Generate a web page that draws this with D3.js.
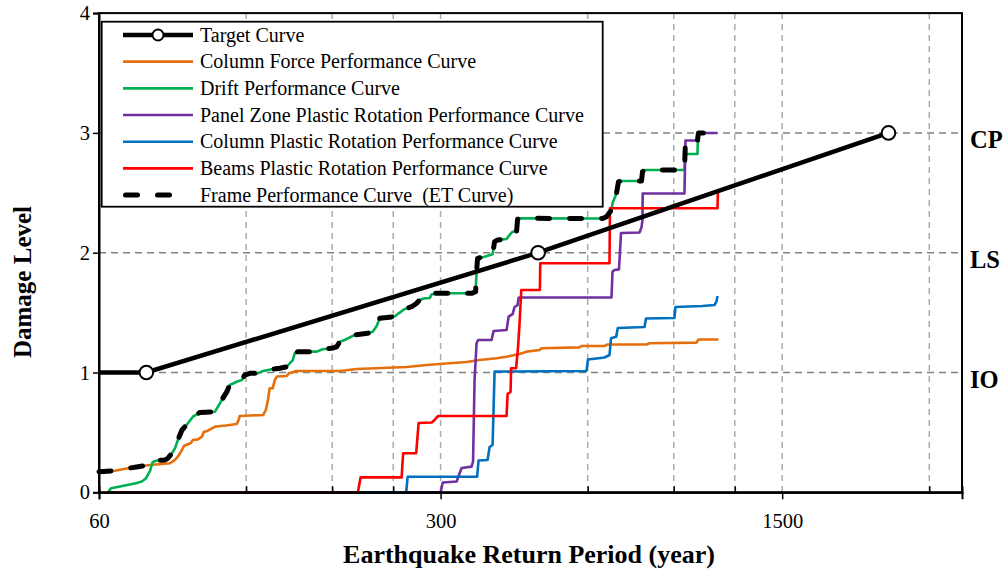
<!DOCTYPE html>
<html>
<head>
<meta charset="utf-8">
<script src="https://cdn.jsdelivr.net/npm/d3@7"></script>
<style>
  body { margin: 0; background: #fff; }
  svg { display: block; }
  text { font-family: "Liberation Serif", "Times New Roman", serif; fill: #000; }
</style>
</head>
<body>
<svg id="chart" width="1007" height="571"></svg>
<script>
// ---- Data: return period (years) vs. damage level ----
const targetPeriods = [60, 75, 475, 2475];
const targetLevels  = [1, 1, 2, 3];
const targetMarkers = [75, 475, 2475];

const columnForceCurve = [
  [60,0.172],[64.6,0.180],[68.8,0.200],[72.1,0.214],[76.3,0.228],[80.7,0.236],[83.8,0.242],[85.8,0.270],
  [87.0,0.297],[88.7,0.353],[89.5,0.386],[92.5,0.412],[93.4,0.437],[95.6,0.442],[97.4,0.462],[98.3,0.503],
  [100.2,0.514],[102.1,0.534],[104.0,0.549],[109.1,0.558],[114.8,0.570],[115.9,0.604],[116.4,0.637],
  [130.0,0.645],[131.7,0.687],[133.0,0.770],[134.1,0.868],[136.0,0.868],[137.4,0.937],[138.7,0.967],
  [145.3,0.971],[146.7,0.993],[150.2,1.004],[151.6,1.013],[186.5,1.013],[202.0,1.029],[255.7,1.046],
  [281.0,1.063],[298.7,1.071],[339.1,1.088],[360.5,1.104],[390.5,1.119],[409.4,1.132],[435.2,1.154],
  [449.8,1.174],[478.2,1.188],[482.8,1.202],[577.3,1.210],[582.8,1.221],[649.5,1.221],[658.7,1.234],
  [791.6,1.234],[802.8,1.244],[1001.5,1.249],[1011,1.275],[1111,1.275]
];

const driftCurve = [
  [62.6,0],[63.5,0.033],[67.8,0.057],[71.4,0.075],[73.4,0.090],[74.8,0.115],[76.3,0.178],[77.3,0.253],
  [78.8,0.265],[81.9,0.270],[83.0,0.284],[84.6,0.326],[85.8,0.367],[87.0,0.437],[88.7,0.520],[91.2,0.576],
  [93.4,0.631],[96.5,0.666],[103.6,0.673],[105.1,0.715],[107.0,0.770],[109.6,0.840],[111.1,0.896],
  [114.8,0.923],[117.6,0.937],[119.2,0.979],[122.1,0.993],[126.8,0.993],[130.0,1.013],[135.4,1.027],
  [140.7,1.035],[145.4,1.048],[147.4,1.077],[149.5,1.104],[150.9,1.160],[153.1,1.174],[167.4,1.174],
  [172.1,1.194],[179.6,1.202],[183.9,1.215],[186.5,1.257],[190.9,1.271],[200.1,1.313],[212.7,1.327],
  [217.9,1.341],[222.0,1.388],[225.2,1.452],[241.6,1.467],[246.2,1.494],[253.3,1.530],[261.8,1.549],
  [268.0,1.578],[271.8,1.605],[278.3,1.619],[284.9,1.622],[287.6,1.651],[293.1,1.661],[347.2,1.661],
  [353.8,1.674],[355.4,1.839],[357.1,1.953],[369.1,1.967],[383.3,1.987],[386.9,2.092],[392.4,2.106],
  [409.4,2.114],[415.3,2.148],[421.2,2.175],[429.2,2.181],[431.2,2.279],[435.2,2.287],[643.4,2.285],
  [655.6,2.301],[671.2,2.356],[674.4,2.412],[687.2,2.496],[693.7,2.593],[706.9,2.598],[773.1,2.598],
  [776.7,2.676],[784.1,2.690],[946.6,2.690],[951.1,2.824],[1006.4,2.824],[1008,2.928],[1015.8,2.941]
];

const panelZoneCurve = [
  [62.6,0],[300.1,0],[303.0,0.082],[323.6,0.090],[326.6,0.136],[331.3,0.203],[347.2,0.214],[349.6,0.257],
  [352.1,0.937],[355.4,1.244],[358.0,1.271],[381.5,1.271],[385.1,1.346],[409.4,1.355],[413.3,1.466],
  [421.2,1.488],[425.2,1.547],[431.2,1.563],[433.2,1.622],[435.2,1.626],[671.2,1.626],[674.4,1.841],
  [680.8,1.856],[695.3,1.861],[702.0,2.164],[765.8,2.169],[773.1,2.212],[776.7,2.273],[777.5,2.494],
  [946.6,2.494],[951.1,2.937],[1006.4,2.937],[1011,2.999],[1105.9,2.999]
];

const columnRotationCurve = [
  [62.6,0],[255.1,0],[256.9,0.130],[356.3,0.130],[358.8,0.265],[374.3,0.270],[377.9,0.378],[383.3,0.395],
  [386.9,1.007],[596.7,1.013],[600.9,1.109],[649.5,1.125],[664.9,1.146],[669.7,1.285],[686.2,1.299],
  [691.4,1.371],[784.1,1.380],[789.7,1.451],[903.1,1.455],[907.4,1.547],[1030.3,1.555],[1090.4,1.563],
  [1100.7,1.593],[1105.9,1.639]
];

const beamRotationCurve = [
  [62.6,0],[203.2,0],[205.8,0.125],[249.7,0.125],[251.5,0.326],[267.4,0.326],[270.5,0.578],[287.6,0.583],
  [291.7,0.604],[296.6,0.637],[409.4,0.637],[411.4,0.821],[417.2,0.837],[418.2,1.035],[428.2,1.035],
  [432.2,1.215],[435.2,1.411],[438.8,1.689],[479.0,1.689],[479.8,1.912],[664.9,1.912],[666.5,2.371],
  [1105.9,2.371],[1108.5,2.523]
];

const frameCurve = [
  [60,0.172],[64.6,0.180],[68.8,0.200],[72.1,0.214],[76.3,0.228],[77.0,0.232],[77.3,0.253],
  [78.8,0.265],[81.9,0.270],[83.0,0.284],[84.6,0.326],[85.8,0.367],[87.0,0.437],[88.7,0.520],[91.2,0.576],
  [93.4,0.631],[96.5,0.666],[103.6,0.673],[105.1,0.715],[107.0,0.770],[109.6,0.840],[111.1,0.896],
  [114.8,0.923],[117.6,0.937],[119.2,0.979],[122.1,0.993],[126.8,0.993],[130.0,1.013],[135.4,1.027],
  [140.7,1.035],[145.4,1.048],[147.4,1.077],[149.5,1.104],[150.9,1.160],[153.1,1.174],[167.4,1.174],
  [172.1,1.194],[179.6,1.202],[183.9,1.215],[186.5,1.257],[190.9,1.271],[200.1,1.313],[212.7,1.327],
  [217.9,1.341],[222.0,1.388],[225.2,1.452],[241.6,1.467],[246.2,1.494],[253.3,1.530],[261.8,1.549],
  [268.0,1.578],[271.8,1.605],[278.3,1.619],[284.9,1.622],[287.6,1.651],[293.1,1.661],[347.2,1.661],
  [353.8,1.674],[355.4,1.839],[357.1,1.953],[369.1,1.967],[383.3,1.987],[386.9,2.092],[392.4,2.106],
  [409.4,2.114],[415.3,2.148],[421.2,2.175],[429.2,2.181],[431.2,2.279],[435.2,2.287],[643.4,2.285],
  [655.6,2.301],[671.2,2.356],[674.4,2.412],[687.2,2.496],[693.7,2.593],[706.9,2.598],[773.1,2.598],
  [776.7,2.676],[784.1,2.690],[946.6,2.690],[951.1,2.937],[1006.4,2.937],[1011,2.999],[1105.9,2.999]
];

// ---- Axis ticks and labels ----
const xMajorTicks = [60, 300, 1500];
const xMinorTicks = [120, 180, 240, 600, 900, 1200, 3000];
const xDomain = [60, 3500];
const yTicks = [0, 1, 2, 3, 4];
const yDomain = [0, 4];
const limitStateLevels = [1, 2, 3];
const limitStateNames  = ["IO", "LS", "CP"];
const xTitle = "Earthquake Return Period (year)";
const yTitle = "Damage Level";

// ---- Chart setup ----
const svg = d3.select("#chart");
const plot = { left: 99, right: 962, top: 13.1, bottom: 492.3 };

const x = d3.scaleLog().domain(xDomain).range([plot.left, plot.right]);
const y = d3.scaleLinear().domain(yDomain).range([plot.bottom, plot.top]);

// Gridlines
const vGrid = xMajorTicks.concat(xMinorTicks).filter(v => v !== xDomain[0]);
svg.append("g").selectAll("line").data(vGrid).join("line")
  .attr("x1", d => x(d)).attr("x2", d => x(d))
  .attr("y1", plot.top).attr("y2", plot.bottom)
  .attr("stroke", "#ababab").attr("stroke-width", 1.5).attr("stroke-dasharray", "6,5");
svg.append("g").selectAll("line").data(limitStateLevels).join("line")
  .attr("x1", plot.left).attr("x2", plot.right)
  .attr("y1", d => y(d)).attr("y2", d => y(d))
  .attr("stroke", "#808080").attr("stroke-width", 1.5).attr("stroke-dasharray", "7,5");

// Performance curves
const line = d3.line().x(d => x(d[0])).y(d => y(d[1]));
const series = [
  { label: "Column Force Performance Curve", data: columnForceCurve, color: "#E56F0C" },
  { label: "Drift Performance Curve", data: driftCurve, color: "#00B050" },
  { label: "Panel Zone Plastic Rotation Performance Curve", data: panelZoneCurve, color: "#7030A0" },
  { label: "Column Plastic Rotation Performance Curve", data: columnRotationCurve, color: "#0070C0" },
  { label: "Beams Plastic Rotation Performance Curve", data: beamRotationCurve, color: "#FF0000" }
];
const curves = svg.append("g").attr("fill", "none").attr("stroke-linejoin", "round");
series.forEach(s => {
  curves.append("path").datum(s.data).attr("d", line)
    .attr("stroke", s.color).attr("stroke-width", 2.6);
});

// Target curve
const targetData = targetPeriods.map((p, i) => [p, targetLevels[i]]);
svg.append("path").datum(targetData).attr("d", line)
  .attr("fill", "none").attr("stroke", "#000").attr("stroke-width", 4.5);

// Frame performance (ET) curve
svg.append("path").datum(frameCurve).attr("d", line)
  .attr("fill", "none").attr("stroke", "#000").attr("stroke-width", 5)
  .attr("stroke-dasharray", "12,20").attr("stroke-linecap", "round").attr("stroke-linejoin", "round");

// Target markers
svg.append("g").selectAll("circle").data(targetMarkers).join("circle")
  .attr("cx", d => x(d)).attr("cy", d => y(targetLevels[targetPeriods.indexOf(d)]))
  .attr("r", 6.8).attr("fill", "#fff").attr("stroke", "#000").attr("stroke-width", 2);

// Plot frame
svg.append("rect").attr("x", plot.left).attr("y", plot.top)
  .attr("width", plot.right - plot.left).attr("height", plot.bottom - plot.top)
  .attr("fill", "none").attr("stroke", "#000").attr("stroke-width", 2);

// Axes
const xAxis = svg.append("g").attr("transform", `translate(0,${plot.bottom})`)
  .call(d3.axisBottom(x).tickValues(xMajorTicks).tickFormat(d3.format("d")).tickSize(7).tickPadding(14));
const xMinor = svg.append("g").attr("transform", `translate(0,${plot.bottom})`)
  .call(d3.axisBottom(x).tickValues(xMinorTicks).tickFormat("").tickSize(-6));
const yAxis = svg.append("g").attr("transform", `translate(${plot.left},0)`)
  .call(d3.axisLeft(y).tickValues(yTicks).tickFormat(d3.format("d")).tickSize(6).tickPadding(3));
[xAxis, xMinor, yAxis].forEach(g => {
  g.select(".domain").attr("stroke", "#000").attr("stroke-width", 2);
  g.selectAll(".tick line").attr("stroke", "#000").attr("stroke-width", 1.5);
  g.selectAll(".tick text").attr("font-family", "Liberation Serif, Times New Roman, serif")
    .attr("font-size", 20.5).attr("fill", "#000");
});

// Limit state labels
svg.append("g").selectAll("text").data(limitStateLevels).join("text")
  .attr("x", 970).attr("y", d => y(d) + 15)
  .attr("font-size", 24.5).attr("font-weight", "bold")
  .text((d, i) => limitStateNames[i]);

// Axis titles
svg.append("text").attr("x", 529).attr("y", 563).attr("text-anchor", "middle")
  .attr("font-size", 26).attr("font-weight", "bold").text(xTitle);
svg.append("text").attr("transform", "translate(31,282) rotate(-90)").attr("text-anchor", "middle")
  .attr("font-size", 25).attr("font-weight", "bold").text(yTitle);

// Legend
const legend = svg.append("g");
legend.append("rect").attr("x", 101.7).attr("y", 21.7).attr("width", 501).attr("height", 185)
  .attr("fill", "#fff").attr("stroke", "#000").attr("stroke-width", 1.8);
const legendItems = [{ label: "Target Curve", kind: "target" }]
  .concat(series.map(s => ({ label: s.label, kind: "series", color: s.color })))
  .concat([{ label: "Frame Performance Curve  (ET Curve)", kind: "frame" }]);
const rowY = i => 35 + i * 26.67;
legendItems.forEach((item, i) => {
  const yy = rowY(i);
  if (item.kind === "target") {
    legend.append("line").attr("x1", 123).attr("x2", 193).attr("y1", yy).attr("y2", yy)
      .attr("stroke", "#000").attr("stroke-width", 4.5);
    legend.append("circle").attr("cx", 158).attr("cy", yy).attr("r", 5.5)
      .attr("fill", "#fff").attr("stroke", "#000").attr("stroke-width", 2);
  } else if (item.kind === "series") {
    legend.append("line").attr("x1", 123).attr("x2", 193).attr("y1", yy).attr("y2", yy)
      .attr("stroke", item.color).attr("stroke-width", 2.6);
  } else {
    legend.append("line").attr("x1", 125.5).attr("x2", 172).attr("y1", yy).attr("y2", yy)
      .attr("stroke", "#000").attr("stroke-width", 5).attr("stroke-dasharray", "12,20")
      .attr("stroke-linecap", "round");
  }
  legend.append("text").attr("x", 200).attr("y", yy).attr("dy", "0.33em")
    .attr("font-size", 20).attr("xml:space", "preserve").style("white-space", "pre")
    .text(item.label);
});
</script>
</body>
</html>
